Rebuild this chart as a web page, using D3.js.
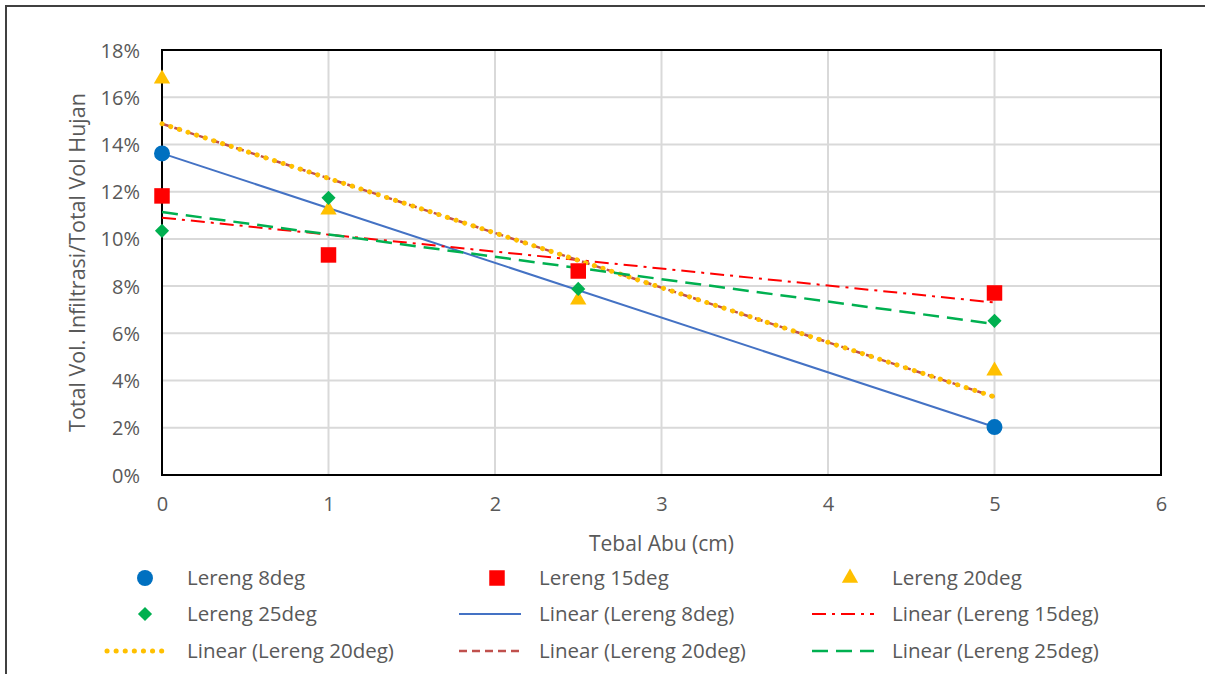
<!DOCTYPE html>
<html>
<head>
<meta charset="utf-8">
<script src="https://cdn.jsdelivr.net/npm/d3@7"></script>
<style>
  body { margin: 0; background: #fff; }
  text { font-family: "Open Sans", sans-serif; fill: #595959; }
</style>
</head>
<body>
<svg width="1205" height="674"></svg>
<script>
// data
var seriesNames = ["Lereng 8deg", "Lereng 15deg", "Lereng 20deg", "Lereng 25deg"];
var x8 = [0, 5],        y8 = [0.1362, 0.0203];
var x15 = [0, 1, 2.5, 5], y15 = [0.1182, 0.0932, 0.0864, 0.0771];
var x20 = [0, 1, 2.5, 5], y20 = [0.1678, 0.1123, 0.0742, 0.0441];
var x25 = [0, 1, 2.5, 5], y25 = [0.1034, 0.1174, 0.0788, 0.0653];
var xTicks = [0, 1, 2, 3, 4, 5, 6];
var yTicks = [0, 0.02, 0.04, 0.06, 0.08, 0.1, 0.12, 0.14, 0.16, 0.18];

var svg = d3.select("svg");
var pLeft = 162, pRight = 1161, pTop = 50, pBottom = 475;
var fs = "20px";

// outer chart frame
svg.append("rect").attr("x", 6).attr("y", 6).attr("width", 1220).attr("height", 700)
  .attr("fill", "none").attr("stroke", "#404040").attr("stroke-width", 2);

var x = d3.scaleLinear().domain([0, 6]).range([pLeft, pRight]);
var y = d3.scaleLinear().domain([0, 0.18]).range([pBottom, pTop]);

// grid
svg.append("g").selectAll("line").data(yTicks).enter().append("line")
  .attr("x1", pLeft).attr("x2", pRight).attr("y1", d => y(d)).attr("y2", d => y(d))
  .attr("stroke", "#d9d9d9").attr("stroke-width", 2);
svg.append("g").selectAll("line").data(xTicks).enter().append("line")
  .attr("y1", pTop).attr("y2", pBottom).attr("x1", d => x(d)).attr("x2", d => x(d))
  .attr("stroke", "#d9d9d9").attr("stroke-width", 2);

// axes (labels only, Excel style)
var xa = svg.append("g").attr("transform", "translate(0," + pBottom + ")")
  .call(d3.axisBottom(x).tickValues(xTicks).tickSize(0).tickPadding(22).tickFormat(d3.format("d")));
var ya = svg.append("g").attr("transform", "translate(" + pLeft + ",0)")
  .call(d3.axisLeft(y).tickValues(yTicks).tickSize(0).tickPadding(22).tickFormat(d3.format(".0%")));
[xa, ya].forEach(function (a) {
  a.select(".domain").remove();
  a.selectAll("text").style("font-size", fs).attr("fill", "#595959")
    .style("font-family", "'Open Sans', sans-serif");
});
ya.selectAll("text").attr("dy", "0.35em");

// plot border
svg.append("rect").attr("x", pLeft).attr("y", pTop).attr("width", pRight - pLeft).attr("height", pBottom - pTop)
  .attr("fill", "none").attr("stroke", "#000").attr("stroke-width", 2);

// axis titles
svg.append("text").attr("x", (pLeft + pRight) / 2).attr("y", 551).attr("text-anchor", "middle")
  .style("font-size", "21px").text("Tebal Abu (cm)");
svg.append("text").attr("transform", "translate(85," + ((pTop + pBottom) / 2) + ") rotate(-90)")
  .attr("text-anchor", "middle").style("font-size", "21.5px").text("Total Vol. Infiltrasi/Total Vol Hujan");

// least squares trend lines
function fit(xs, ys) {
  var mx = d3.mean(xs), my = d3.mean(ys), sxy = 0, sxx = 0;
  xs.forEach(function (v, i) { sxy += (v - mx) * (ys[i] - my); sxx += (v - mx) * (v - mx); });
  var b = sxy / sxx;
  return [[0, my - b * mx], [5, my - b * mx + b * 5]];
}
var trends = [
  { xs: x8, ys: y8, color: "#4472c4", dash: null, w: 2 },
  { xs: x15, ys: y15, color: "#ff0000", dash: "14,6,3,6", w: 2 },
  { xs: x20, ys: y20, color: "#c0504d", dash: "8,5", w: 2.5 },
  { xs: x20, ys: y20, color: "#ffc000", dash: "0.1,9", w: 5, cap: "round" },
  { xs: x25, ys: y25, color: "#00b050", dash: "16,8", w: 2.5 }
];
var line = d3.line().x(d => x(d[0])).y(d => y(d[1]));
trends.forEach(function (t) {
  svg.append("path").datum(fit(t.xs, t.ys)).attr("d", line)
    .attr("fill", "none").attr("stroke", t.color).attr("stroke-width", t.w)
    .attr("stroke-dasharray", t.dash).attr("stroke-linecap", t.cap || "butt");
});

// markers
var sym = [
  { xs: x8, ys: y8, type: d3.symbolCircle, size: 200, color: "#0070c0", rot: 0 },
  { xs: x15, ys: y15, type: d3.symbolSquare, size: 240, color: "#ff0000", rot: 0 },
  { xs: x20, ys: y20, type: d3.symbolTriangle, size: 115, color: "#ffc000", rot: 0 },
  { xs: x25, ys: y25, type: d3.symbolSquare, size: 100, color: "#00b050", rot: 45 }
];
sym.forEach(function (s) {
  svg.append("g").selectAll("path").data(s.xs).enter().append("path")
    .attr("transform", (d, i) => "translate(" + x(d) + "," + y(s.ys[i]) + ") rotate(" + s.rot + ")")
    .attr("d", d3.symbol().type(s.type).size(s.size)).attr("fill", s.color);
});

// legend
var colX = [145, 497, 850], rowY = [578, 614, 651];
var legend = [
  { label: seriesNames[0], sym: 0 },
  { label: seriesNames[1], sym: 1 },
  { label: seriesNames[2], sym: 2 },
  { label: seriesNames[3], sym: 3 },
  { label: "Linear (" + seriesNames[0] + ")", tr: 0 },
  { label: "Linear (" + seriesNames[1] + ")", tr: 1 },
  { label: "Linear (" + seriesNames[2] + ")", tr: 3 },
  { label: "Linear (" + seriesNames[2] + ")", tr: 2 },
  { label: "Linear (" + seriesNames[3] + ")", tr: 4 }
];
legend.forEach(function (l, i) {
  var cx = colX[i % 3], cy = rowY[Math.floor(i / 3)];
  var g = svg.append("g");
  if (l.sym !== undefined) {
    var s = sym[l.sym];
    g.append("path").attr("transform", "translate(" + cx + "," + cy + ") rotate(" + s.rot + ")")
      .attr("d", d3.symbol().type(s.type).size(s.size)).attr("fill", s.color);
  } else {
    var t = trends[l.tr];
    g.append("line").attr("x1", cx - 38).attr("x2", cx + 24).attr("y1", cy).attr("y2", cy)
      .attr("stroke", t.color).attr("stroke-width", t.w).attr("stroke-dasharray", t.dash)
      .attr("stroke-linecap", t.cap || "butt");
  }
  g.append("text").attr("x", cx + 42).attr("y", cy).attr("dy", "0.35em")
    .style("font-size", "20.5px").text(l.label);
});
</script>
</body>
</html>
